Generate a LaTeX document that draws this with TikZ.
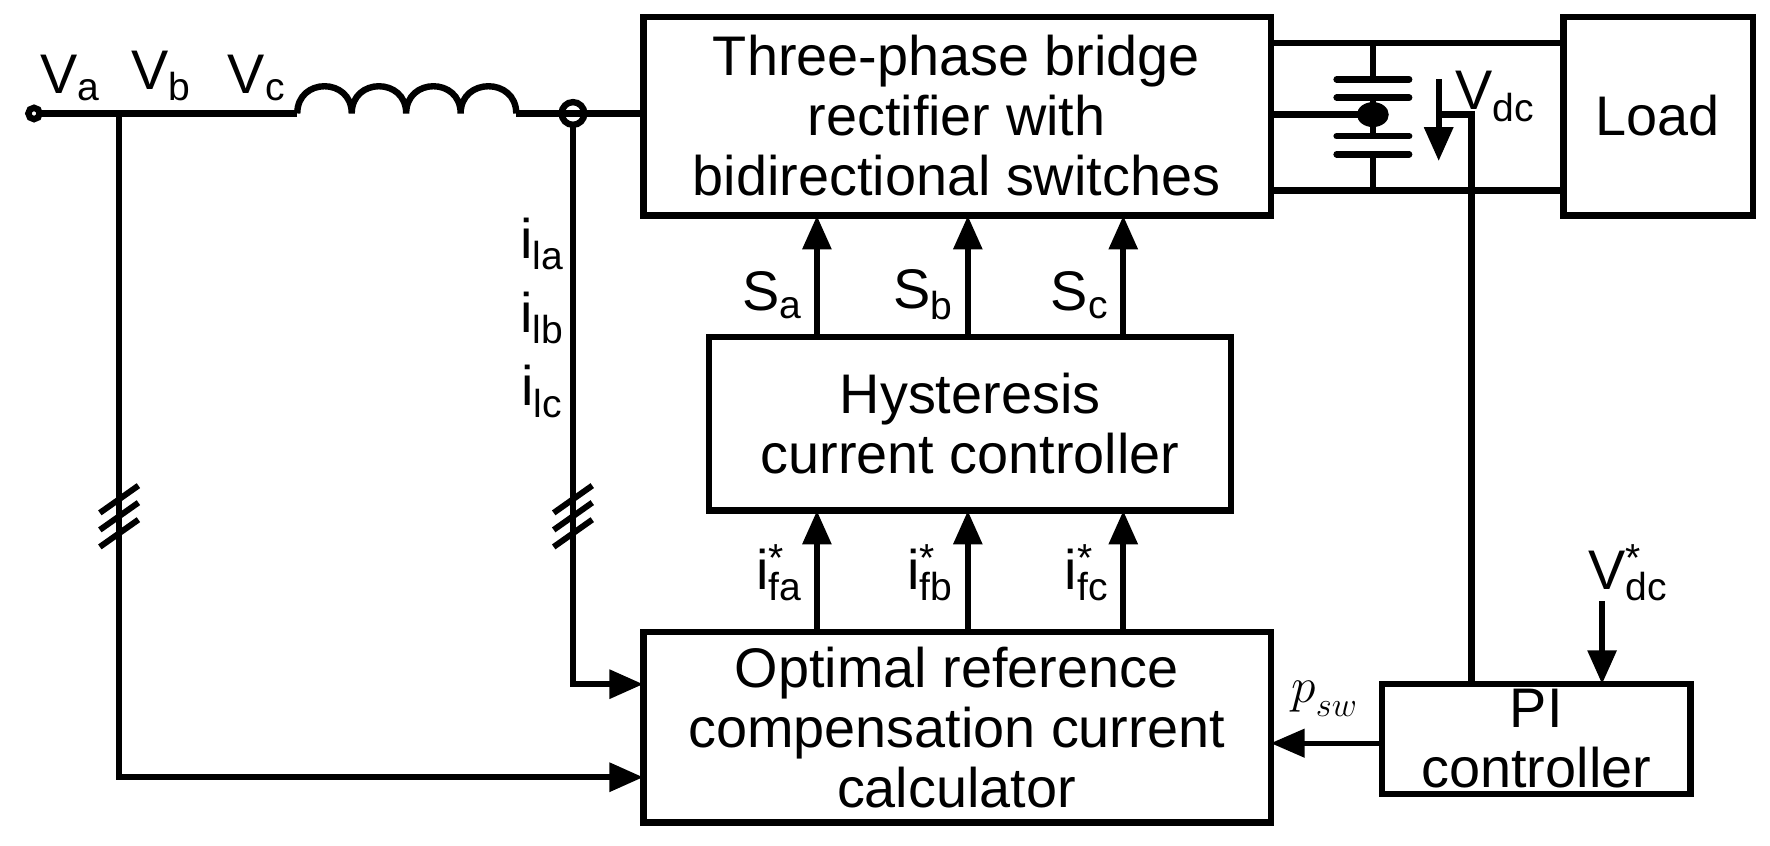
\documentclass[tikz,border=0pt]{standalone}
\usepackage{fontspec}
\setmainfont{Liberation Sans}
\usetikzlibrary{arrows.meta}
\begin{document}
\begin{tikzpicture}[x=0.02cm,y=-0.02cm,line width=3.2pt,
  txt/.style={font=\fontsize{28}{33}\selectfont,align=center,inner sep=0pt},
  arr/.style={-{Triangle[length=17pt,width=14pt]}},
  slash/.style={line width=3pt}]
\useasboundingbox (0,0) rectangle (1560,745);
% boxes
\draw (567,15) rectangle (1120,190);
\node[txt] (rect) at (843,102) {Three-phase bridge\\[-3pt]rectifier with\\[-3pt]bidirectional switches};
\draw (625,297) rectangle (1085,450);
\node[txt] (hys) at (855,373) {Hysteresis\\[-3pt]current controller};
\draw (567,557) rectangle (1120,725);
\node[txt] (opt) at (843,641) {Optimal reference\\[-3pt]compensation current\\[-3pt]calculator};
\draw (1378,15) rectangle (1545,190);
\node[txt] (load) at (1461,102) {Load};
\draw (1218,603) rectangle (1490,700);
\node[txt] (pi) at (1354,651) {PI\\[-3pt]controller};
% coordinates
\foreach \n/\x in {a/720,b/853,c/990}{
  \coordinate (h\n) at (\x,297); \coordinate (r\n) at (\x,190);
  \coordinate (o\n) at (\x,557); \coordinate (hb\n) at (\x,450);
  \draw[arr] (h\n) -- (r\n);
  \draw[arr] (o\n) -- (hb\n);
}
\node[txt,anchor=east] (sa) at (710,260) {S\textsubscript{a}};
\node[txt,anchor=east] (sb) at (843,260) {S\textsubscript{b}};
\node[txt,anchor=east] (sc) at (980,260) {S\textsubscript{c}};
\node[txt,anchor=east] (ifa) at (710,505) {i\rlap{\textsuperscript{*}}\textsubscript{fa}};
\node[txt,anchor=east] (ifb) at (843,505) {i\rlap{\textsuperscript{*}}\textsubscript{fb}};
\node[txt,anchor=east] (ifc) at (980,505) {i\rlap{\textsuperscript{*}}\textsubscript{fc}};
% AC side
\coordinate (src) at (30,100);
\coordinate (b1) at (105,100);
\coordinate (l0) at (262,100);
\coordinate (l1) at (455,100);
\coordinate (ct) at (505,100);
\coordinate (rin) at (567,100);
\draw (src) -- (l0);
\draw (l0) .. controls (262,68) and (310,68) .. (310,100)
  .. controls (310,68) and (358,68) .. (358,100)
  .. controls (358,68) and (406,68) .. (406,100)
  .. controls (406,68) and (455,68) .. (455,100);
\draw (l1) -- (rin);
\draw[fill=white] (src) circle (5);
\draw (ct) circle (10);
\node[txt,anchor=south west] (va) at (33,92) {V\textsubscript{a}};
\node[txt,anchor=south west] (vb) at (113,92) {V\textsubscript{b}};
\node[txt,anchor=south west] (vc) at (198,92) {V\textsubscript{c}};
\coordinate (b2) at (105,685); \coordinate (oin2) at (567,685);
\draw[arr] (b1) -- (b2) -- (oin2);
\coordinate (c2) at (505,603); \coordinate (oin1) at (567,603);
\draw[arr] (505,110) -- (c2) -- (oin1);
\foreach \y in {440,455,470}{
  \draw[slash] (88,\y+12) -- (122,\y-12);
  \draw[slash] (488,\y+12) -- (522,\y-12);
}
\node[txt,anchor=east] (il) at (500,280) {i\textsubscript{la}\\[4pt]i\textsubscript{lb}\\[4pt]i\textsubscript{lc}};
% DC side
\draw (1120,38) -- (1378,38);
\draw (1120,168) -- (1378,168);
\draw (1120,101) -- (1210,101);
\draw (1210,38) -- (1210,70);
\draw (1210,136) -- (1210,168);
\draw (1210,86) -- (1210,120);
\foreach \y in {70,86,120,136} \draw[line cap=round] (1178,\y) -- (1242,\y);
\fill (1210,101) ellipse (14 and 11);
\draw[arr] (1268,70) -- (1268,142);
\node[txt,anchor=west] (vdc) at (1280,85) {V\textsubscript{dc}};
\coordinate (fb) at (1297,603);
\draw (1268,101) -- (1297,101) -- (fb);
\node[txt] (vref) at (1435,505) {V\rlap{\textsuperscript{*}}\textsubscript{dc}};
\coordinate (pit) at (1412,603);
\draw[arr] (1412,530) -- (pit);
\coordinate (pil) at (1218,655); \coordinate (opr) at (1120,655);
\draw[arr,line width=2.4pt] (pil) -- (opr);
\node[font=\fontsize{32}{36}\selectfont] (psw) at (1168,616) {$p_{_{sw}}$};
\end{tikzpicture}
\end{document}
